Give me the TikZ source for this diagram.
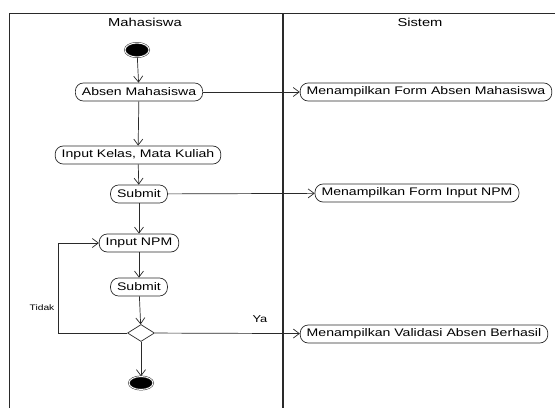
\documentclass[tikz,border=0pt]{standalone}
\usepackage{fontspec}
\setmainfont{Liberation Sans}[FakeStretch=1.28]
\usetikzlibrary{arrows.meta,shapes.geometric}

\definecolor{ink}{HTML}{2A2A2A}

\tikzset{
  lane/.style={draw=ink, line width=0.9pt},
  act/.style={draw=ink, line width=0.7pt, rounded corners=8pt, minimum height=18pt,
    inner xsep=6.5pt, inner ysep=0pt, font=\fontsize{11}{13}\selectfont, text=black},
  flow/.style={draw=ink, line width=0.7pt, -{Straight Barb[length=6pt,width=9pt,line width=0.7pt]}},
  wire/.style={draw=ink, line width=0.7pt},
  bullet/.style={ellipse, minimum width=24pt, minimum height=14pt, inner sep=0pt,
    fill=black, draw=ink, line width=0.5pt, double=white, double distance=0.9pt},
  choice/.style={diamond, draw=ink, line width=0.7pt, fill=white, minimum width=27pt,
    minimum height=17pt, inner sep=0pt},
  guard/.style={font=\fontsize{8}{10}\selectfont, text=black},
  lanetitle/.style={font=\fontsize{11.5}{13}\selectfont, text=black}
}

\begin{document}
\begin{tikzpicture}[x=1pt, y=-1pt]
  \useasboundingbox (0,0) rectangle (555,408);
  \fill[white] (0,0) rectangle (555,408);

  % swimlane frame
  \draw[lane] (9,408) -- (9,13) -- (556,13);
  \draw[lane, line width=1.3pt] (283,13) -- (283,408);
  \node[lanetitle] (hmhs) at (145,22) {Mahasiswa};
  \node[lanetitle] (hsys) at (420,22) {Sistem};

  % activities of the student lane
  \node[bullet] (start) at (137,50) {};
  \node[act] (absen) at (139,92) {Absen Mahasiswa};
  \node[act] (kelas) at (138,155) {Input Kelas, Mata Kuliah};
  \node[act] (sub1) at (139,194) {Submit};
  \node[act] (npm) at (139,243) {Input NPM};
  \node[act] (sub2) at (139,287) {Submit};
  \node[choice] (dec) at (141,333) {};
  \node[bullet, minimum height=13pt] (stop) at (141,383) {};

  % activities of the system lane
  \node[act] (fabsen) at (426,92) {Menampilkan Form Absen Mahasiswa};
  \node[act] (fnpm) at (417,193) {Menampilkan Form Input NPM};
  \node[act] (valid) at (424,334) {Menampilkan Validasi Absen Berhasil};

  % control flow
  \draw[flow] (start) -- (absen);
  \draw[flow] (absen) -- (kelas);
  \draw[flow] (kelas) -- (sub1);
  \draw[flow] (sub1) -- (npm);
  \draw[flow] (npm) -- (sub2);
  \draw[flow] (sub2) -- (dec);
  \draw[flow] (dec) -- (stop);

  \draw[flow] (absen) -- (fabsen);
  \draw[flow] (sub1) -- (fnpm);
  \draw[flow] (dec) -- (valid);

  % retry loop
  \coordinate (loop) at (58,333);
  \draw[flow] (dec.west) -- (loop) |- (npm.west);

  \node[guard] (tidak) at (42,308) {Tidak};
  \node[guard, font=\fontsize{10}{12}\selectfont] (ya) at (260,319) {Ya};
\end{tikzpicture}
\end{document}
